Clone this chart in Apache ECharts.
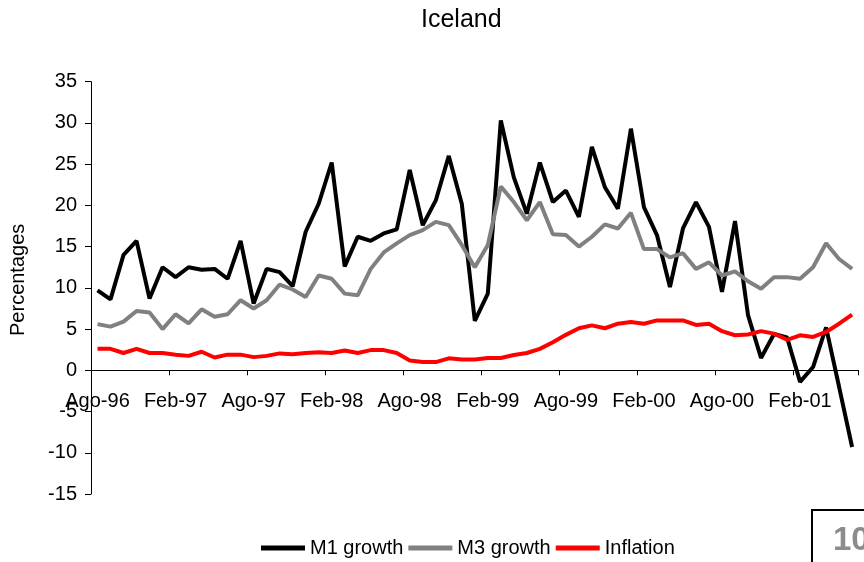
<!DOCTYPE html>
<html>
<head>
<meta charset="utf-8">
<script src="https://cdn.jsdelivr.net/npm/echarts@6/dist/echarts.min.js"></script>
<style>
html,body{margin:0;padding:0;background:#fff;}
#chart{width:864px;height:562px;}
</style>
</head>
<body>
<div id="chart"></div>
<script>
var categories = [
  "Ago-96","Sep-96","Oct-96","Nov-96","Dic-96","Ene-97","Feb-97","Mar-97","Abr-97","May-97","Jun-97","Jul-97",
  "Ago-97","Sep-97","Oct-97","Nov-97","Dic-97","Ene-98","Feb-98","Mar-98","Abr-98","May-98","Jun-98","Jul-98",
  "Ago-98","Sep-98","Oct-98","Nov-98","Dic-98","Ene-99","Feb-99","Mar-99","Abr-99","May-99","Jun-99","Jul-99",
  "Ago-99","Sep-99","Oct-99","Nov-99","Dic-99","Ene-00","Feb-00","Mar-00","Abr-00","May-00","Jun-00","Jul-00",
  "Ago-00","Sep-00","Oct-00","Nov-00","Dic-00","Ene-01","Feb-01","Mar-01","Abr-01","May-01","Jun-01"
];
var m1Growth = [
  9.7, 8.6, 14.0, 15.7, 8.7, 12.5, 11.3, 12.5, 12.2, 12.3, 11.1, 15.7,
  8.1, 12.3, 11.9, 10.2, 16.8, 20.2, 25.2, 12.6, 16.2, 15.7, 16.6, 17.1,
  24.3, 17.6, 20.6, 26.0, 20.2, 6.0, 9.3, 30.3, 23.4, 19.0, 25.2, 20.4,
  21.8, 18.6, 27.1, 22.2, 19.6, 29.3, 19.8, 16.4, 10.1, 17.2, 20.4, 17.4,
  9.5, 18.1, 6.7, 1.5, 4.4, 4.0, -1.4, 0.4, 5.2, -2.0, -9.3
];
var m3Growth = [
  5.6, 5.3, 5.9, 7.2, 7.0, 5.0, 6.8, 5.7, 7.4, 6.5, 6.8, 8.5,
  7.5, 8.5, 10.4, 9.8, 8.9, 11.5, 11.1, 9.3, 9.1, 12.3, 14.3, 15.4,
  16.4, 17.0, 18.0, 17.6, 15.2, 12.5, 15.2, 22.3, 20.4, 18.2, 20.4, 16.5,
  16.4, 15.0, 16.2, 17.7, 17.2, 19.1, 14.7, 14.7, 13.7, 14.2, 12.3, 13.1,
  11.5, 12.0, 10.8, 9.9, 11.3, 11.3, 11.1, 12.5, 15.4, 13.5, 12.3
];
var inflation = [
  2.6, 2.6, 2.1, 2.6, 2.1, 2.1, 1.9, 1.75, 2.25, 1.55, 1.9, 1.9,
  1.6, 1.75, 2.05, 1.95, 2.1, 2.2, 2.1, 2.4, 2.1, 2.45, 2.45, 2.1,
  1.2, 1.0, 1.0, 1.45, 1.3, 1.3, 1.5, 1.5, 1.85, 2.1, 2.6, 3.4,
  4.3, 5.1, 5.45, 5.1, 5.65, 5.85, 5.65, 6.05, 6.05, 6.05, 5.5, 5.65,
  4.75, 4.25, 4.35, 4.75, 4.45, 3.7, 4.25, 4.05, 4.65, 5.65, 6.75
];
var yTicks = { min: -15, max: 35, interval: 5 };
var seriesNames = ["M1 growth", "M3 growth", "Inflation"];
var fontFamily = "'Liberation Sans', Arial, sans-serif";

var gridTop = 81.7, gridBottom = 68, chartH = 562;
var plotH = chartH - gridTop - gridBottom;
// offset so the category axis sits on the zero line (computed from the value scale)
var zeroOffset = -plotH * (0 - yTicks.min) / (yTicks.max - yTicks.min);

var chart = echarts.init(document.getElementById('chart'), null, { renderer: 'canvas' });
chart.setOption({
  animation: false,
  backgroundColor: '#ffffff',
  textStyle: { fontFamily: fontFamily },
  title: {
    text: 'Iceland',
    left: 416,
    top: 3,
    textStyle: { fontSize: 25, fontWeight: 'normal', color: '#000', fontFamily: fontFamily }
  },
  legend: {
    data: seriesNames,
    left: 261,
    top: 538,
    icon: 'rect',
    itemWidth: 44,
    itemHeight: 5,
    itemGap: 5,
    padding: 0,
    textStyle: { fontSize: 20, color: '#000', fontFamily: fontFamily }
  },
  grid: { left: 88.7, right: 5.4, top: gridTop, bottom: gridBottom },
  xAxis: {
    type: 'category',
    data: categories,
    boundaryGap: true,
    position: 'bottom',
    offset: zeroOffset,
    axisLine: { onZero: false, lineStyle: { color: '#000', width: 1 } },
    axisTick: { show: true, interval: 5, length: 5, lineStyle: { color: '#000' } },
    axisLabel: { interval: 5, fontSize: 20, color: '#000', margin: 21, fontFamily: fontFamily },
    splitLine: { show: false }
  },
  yAxis: {
    type: 'value',
    min: yTicks.min,
    max: yTicks.max,
    interval: yTicks.interval,
    name: 'Percentages',
    nameLocation: 'middle',
    nameGap: 63,
    nameRotate: 90,
    nameTextStyle: { fontSize: 20, color: '#000', fontFamily: fontFamily, padding: [0, 0, 0, 16] },
    axisLine: { show: true, lineStyle: { color: '#000', width: 1 } },
    axisTick: { show: true, length: 6, lineStyle: { color: '#000' } },
    axisLabel: { fontSize: 20, color: '#000', margin: 14, fontFamily: fontFamily },
    splitLine: { show: false }
  },
  series: [
    { name: seriesNames[0], type: 'line', data: m1Growth, symbol: 'none', smooth: false,
      lineStyle: { color: '#000000', width: 4 }, itemStyle: { color: '#000000' } },
    { name: seriesNames[1], type: 'line', data: m3Growth, symbol: 'none', smooth: false,
      lineStyle: { color: '#808080', width: 4 }, itemStyle: { color: '#808080' } },
    { name: seriesNames[2], type: 'line', data: inflation, symbol: 'none', smooth: false,
      lineStyle: { color: '#ff0000', width: 4 }, itemStyle: { color: '#ff0000' } }
  ],
  graphic: [
    { type: 'rect', left: 811, top: 509, shape: { width: 70, height: 70 },
      style: { fill: '#fff', stroke: '#000', lineWidth: 2 } },
    { type: 'text', left: 833, top: 524,
      style: { text: '10', fontSize: 33, fontWeight: 'bold', fill: '#8c8c8c', fontFamily: fontFamily } }
  ]
});
</script>
</body>
</html>
